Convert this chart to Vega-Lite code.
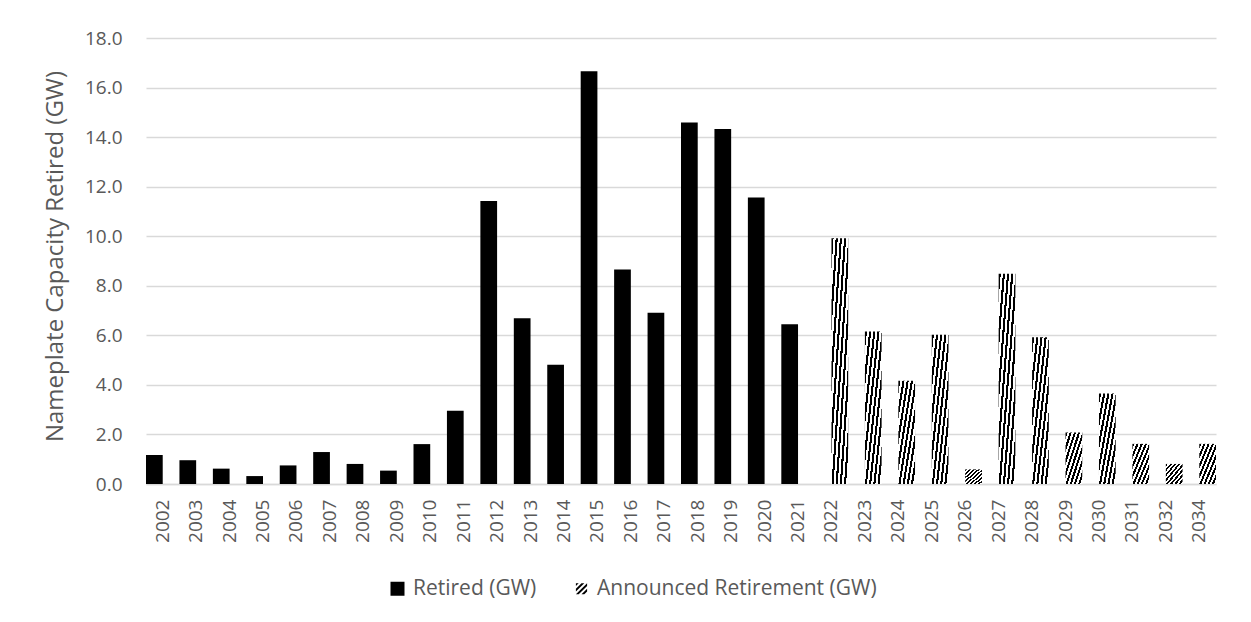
{
  "$schema": "https://vega.github.io/schema/vega-lite/v6.json",
  "width": 1070,
  "height": 446,
  "autosize": {"type": "none"},
  "padding": {"left": 146, "top": 38, "right": 35, "bottom": 138},
  "background": "white",
  "config": {
    "font": "Open Sans",
    "view": {"stroke": null},
    "axis": {"labelColor": "#595959", "titleColor": "#595959", "titleFontWeight": "normal"},
    "legend": {
      "title": null,
      "orient": "none",
      "direction": "horizontal",
      "legendX": 241,
      "legendY": 540,
      "symbolSize": 196,
      "symbolStrokeWidth": 0,
      "symbolOpacity": 1,
      "labelFontSize": 21,
      "labelColor": "#595959",
      "labelOffset": 5,
      "columnPadding": 34,
      "labelLimit": 400
    }
  },
  "data": {
    "values": [
      {"year": "2002", "series": "Retired (GW)", "gw": 1.17},
      {"year": "2003", "series": "Retired (GW)", "gw": 0.96},
      {"year": "2004", "series": "Retired (GW)", "gw": 0.62},
      {"year": "2005", "series": "Retired (GW)", "gw": 0.32},
      {"year": "2006", "series": "Retired (GW)", "gw": 0.75},
      {"year": "2007", "series": "Retired (GW)", "gw": 1.29},
      {"year": "2008", "series": "Retired (GW)", "gw": 0.81},
      {"year": "2009", "series": "Retired (GW)", "gw": 0.54},
      {"year": "2010", "series": "Retired (GW)", "gw": 1.61},
      {"year": "2011", "series": "Retired (GW)", "gw": 2.96},
      {"year": "2012", "series": "Retired (GW)", "gw": 11.42},
      {"year": "2013", "series": "Retired (GW)", "gw": 6.69},
      {"year": "2014", "series": "Retired (GW)", "gw": 4.81},
      {"year": "2015", "series": "Retired (GW)", "gw": 16.66},
      {"year": "2016", "series": "Retired (GW)", "gw": 8.66},
      {"year": "2017", "series": "Retired (GW)", "gw": 6.91},
      {"year": "2018", "series": "Retired (GW)", "gw": 14.59},
      {"year": "2019", "series": "Retired (GW)", "gw": 14.33},
      {"year": "2020", "series": "Retired (GW)", "gw": 11.56},
      {"year": "2021", "series": "Retired (GW)", "gw": 6.45},
      {"year": "2022", "series": "Announced Retirement (GW)", "gw": 9.92},
      {"year": "2023", "series": "Announced Retirement (GW)", "gw": 6.15},
      {"year": "2024", "series": "Announced Retirement (GW)", "gw": 4.17},
      {"year": "2025", "series": "Announced Retirement (GW)", "gw": 6.02},
      {"year": "2026", "series": "Announced Retirement (GW)", "gw": 0.59},
      {"year": "2027", "series": "Announced Retirement (GW)", "gw": 8.49},
      {"year": "2028", "series": "Announced Retirement (GW)", "gw": 5.92},
      {"year": "2029", "series": "Announced Retirement (GW)", "gw": 2.08},
      {"year": "2030", "series": "Announced Retirement (GW)", "gw": 3.65},
      {"year": "2031", "series": "Announced Retirement (GW)", "gw": 1.62},
      {"year": "2032", "series": "Announced Retirement (GW)", "gw": 0.81},
      {"year": "2034", "series": "Announced Retirement (GW)", "gw": 1.62}
    ]
  },
  "layer": [
    {
      "mark": {"type": "bar"},
      "encoding": {
        "x": {
          "field": "year",
          "type": "nominal",
          "sort": null,
          "scale": {"paddingInner": 0, "paddingOuter": 0},
          "axis": {
            "title": null,
            "labelAngle": -90,
            "labelFontSize": 19,
            "labelPadding": 15,
            "ticks": false,
            "domainColor": "#d9d9d9",
            "domainWidth": 1.5,
            "grid": false
          }
        },
        "xOffset": {
          "field": "series",
          "type": "nominal",
          "scale": {"domain": ["Retired (GW)", "Announced Retirement (GW)"], "paddingInner": 0, "paddingOuter": 0}
        },
        "y": {
          "field": "gw",
          "type": "quantitative",
          "scale": {"domain": [0, 18], "nice": false},
          "axis": {
            "title": "Nameplate Capacity Retired (GW)",
            "titleFontSize": 24,
            "titleX": -91,
            "titleY": 218,
            "titleAlign": "center",
            "titleBaseline": "middle",
            "titleAngle": -90,
            "values": [0, 2, 4, 6, 8, 10, 12, 14, 16, 18],
            "format": ".1f",
            "labelFontSize": 19,
            "labelPadding": 24,
            "ticks": false,
            "domain": false,
            "gridColor": "#d9d9d9",
            "gridWidth": 1.5
          }
        },
        "color": {
          "field": "series",
          "type": "nominal",
          "condition": {
            "test": "datum.series === 'Announced Retirement (GW)'",
            "value": {
              "gradient": "linear",
              "x1": 0, "y1": 0, "x2": 1, "y2": 1,
              "stops": [
                {"offset": 0, "color": "#000000"}, {"offset": 0.0625, "color": "#000000"},
                {"offset": 0.0625, "color": "#ffffff"}, {"offset": 0.125, "color": "#ffffff"},
                {"offset": 0.125, "color": "#000000"}, {"offset": 0.1875, "color": "#000000"},
                {"offset": 0.1875, "color": "#ffffff"}, {"offset": 0.25, "color": "#ffffff"},
                {"offset": 0.25, "color": "#000000"}, {"offset": 0.3125, "color": "#000000"},
                {"offset": 0.3125, "color": "#ffffff"}, {"offset": 0.375, "color": "#ffffff"},
                {"offset": 0.375, "color": "#000000"}, {"offset": 0.4375, "color": "#000000"},
                {"offset": 0.4375, "color": "#ffffff"}, {"offset": 0.5, "color": "#ffffff"},
                {"offset": 0.5, "color": "#000000"}, {"offset": 0.5625, "color": "#000000"},
                {"offset": 0.5625, "color": "#ffffff"}, {"offset": 0.625, "color": "#ffffff"},
                {"offset": 0.625, "color": "#000000"}, {"offset": 0.6875, "color": "#000000"},
                {"offset": 0.6875, "color": "#ffffff"}, {"offset": 0.75, "color": "#ffffff"},
                {"offset": 0.75, "color": "#000000"}, {"offset": 0.8125, "color": "#000000"},
                {"offset": 0.8125, "color": "#ffffff"}, {"offset": 0.875, "color": "#ffffff"},
                {"offset": 0.875, "color": "#000000"}, {"offset": 0.9375, "color": "#000000"},
                {"offset": 0.9375, "color": "#ffffff"}, {"offset": 1, "color": "#ffffff"}
              ]
            }
          },
          "scale": {
            "domain": ["Retired (GW)", "Announced Retirement (GW)"],
            "range": ["#000000", "#000000"]
          }
        }
      }
    },
    {
      "mark": {"type": "point", "filled": true, "opacity": 1, "size": 0},
      "encoding": {
        "x": {"field": "year", "type": "nominal", "sort": null},
        "y": {"field": "gw", "type": "quantitative"},
        "color": {
          "field": "series",
          "type": "nominal",
          "scale": {
            "domain": ["Retired (GW)", "Announced Retirement (GW)"],
            "range": ["#000000", "#000000"]
          }
        },
        "shape": {
          "field": "series",
          "type": "nominal",
          "scale": {
            "domain": ["Retired (GW)", "Announced Retirement (GW)"],
            "range": [
              "square",
              "M-0.8,-0.8L-0.4,-0.8L-0.8,-0.4Z M0,-0.8L0.4,-0.8L-0.8,0.4L-0.8,0Z M0.8,-0.8L0.8,-0.4L-0.4,0.8L-0.8,0.8Z M0.8,0L0.8,0.4L0.4,0.8L0,0.8Z"
            ]
          }
        }
      }
    }
  ]
}
